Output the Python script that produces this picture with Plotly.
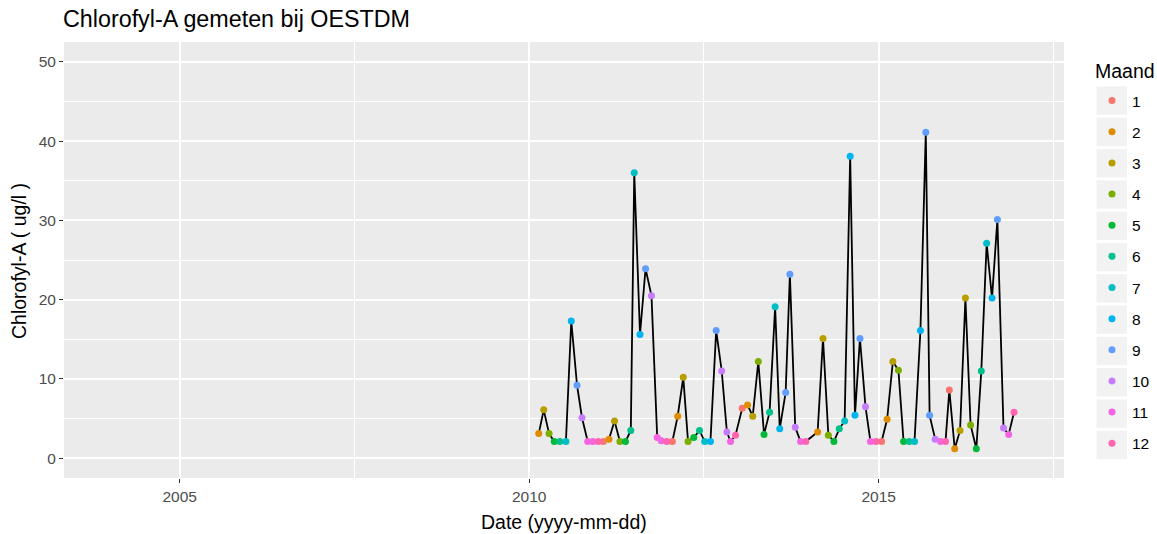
import plotly.graph_objects as go

# ---- data ----
dates = [
    "2010-02-20", "2010-03-18", "2010-04-15", "2010-05-12", "2010-06-10", "2010-07-12",
    "2010-08-09", "2010-09-08", "2010-10-04", "2010-11-03", "2010-11-29", "2010-12-27",
    "2011-01-24", "2011-02-22", "2011-03-23", "2011-04-20", "2011-05-19", "2011-06-16",
    "2011-07-04", "2011-08-03", "2011-09-01", "2011-10-02", "2011-11-01", "2011-11-22",
    "2011-12-21", "2012-01-19", "2012-02-16", "2012-03-16", "2012-04-10", "2012-05-10",
    "2012-06-09", "2012-07-06", "2012-08-05", "2012-09-04", "2012-10-03", "2012-10-30",
    "2012-11-18", "2012-12-14", "2013-01-18", "2013-02-15", "2013-03-14", "2013-04-12",
    "2013-05-12", "2013-06-10", "2013-07-09", "2013-08-02", "2013-09-02", "2013-09-24",
    "2013-10-22", "2013-11-19", "2013-12-16", "2014-02-16", "2014-03-16", "2014-04-13",
    "2014-05-12", "2014-06-09", "2014-07-07", "2014-08-05", "2014-08-30", "2014-09-25",
    "2014-10-24", "2014-11-19", "2014-12-18", "2015-01-16", "2015-02-14", "2015-03-16",
    "2015-04-14", "2015-05-11", "2015-06-09", "2015-07-07", "2015-08-07", "2015-09-04",
    "2015-09-24", "2015-10-23", "2015-11-20", "2015-12-16", "2016-01-05", "2016-02-02",
    "2016-03-01", "2016-03-29", "2016-04-25", "2016-05-25", "2016-06-20", "2016-07-18",
    "2016-08-15", "2016-09-12", "2016-10-14", "2016-11-10", "2016-12-08",
]
chlorofyl = [
    3.1, 6.1, 3.1, 2.1, 2.1, 2.1,
    17.3, 9.2, 5.1, 2.1, 2.1, 2.1,
    2.1, 2.4, 4.7, 2.1, 2.1, 3.5,
    36.0, 15.6, 23.9, 20.5, 2.6, 2.2,
    2.1, 2.1, 5.3, 10.2, 2.1, 2.6,
    3.5, 2.1, 2.1, 16.1, 11.0, 3.3,
    2.1, 2.9, 6.3, 6.7, 5.3, 12.2,
    3.0, 5.8, 19.1, 3.7, 8.3, 23.2,
    3.9, 2.1, 2.1, 3.3, 15.1, 2.9,
    2.1, 3.7, 4.7, 38.1, 5.4, 15.1,
    6.5, 2.1, 2.1, 2.1, 4.9, 12.2,
    11.1, 2.1, 2.1, 2.1, 16.1, 41.1,
    5.4, 2.4, 2.1, 2.1, 8.6, 1.2,
    3.5, 20.2, 4.2, 1.2, 11.0, 27.1,
    20.2, 30.1, 3.8, 3.0, 5.8,
]
maand = [int(d[5:7]) for d in dates]
month_labels = [str(m) for m in range(1, 13)]
month_colors = ["#F8766D", "#DE8C00", "#B79F00", "#7CAE00", "#00BA38", "#00C08B",
                "#00BFC4", "#00B4F0", "#619CFF", "#C77CFF", "#F564E3", "#FF64B0"]
x_tick_vals = ["2005-01-01", "2010-01-01", "2015-01-01"]
x_tick_text = ["2005", "2010", "2015"]
y_tick_vals = [0, 10, 20, 30, 40, 50]

FONT = "Liberation Sans, Arial, sans-serif"
W, H = 1157, 534
L, R, T, B = 64, 93, 42, 56
PH = H - T - B
PW = W - L - R


def px_x(p):
    return (p - L) / PW


def px_y(p):
    return (H - B - p) / PH


fig = go.Figure()
fig.add_trace(go.Scatter(x=dates, y=chlorofyl, mode="lines",
                         line=dict(color="black", width=1.8),
                         showlegend=False, hoverinfo="skip"))
for i, lab in enumerate(month_labels):
    m = i + 1
    xs = [d for d, mm in zip(dates, maand) if mm == m]
    ys = [v for v, mm in zip(chlorofyl, maand) if mm == m]
    fig.add_trace(go.Scatter(x=xs, y=ys, mode="markers", name=lab, legendgroup=lab,
                             marker=dict(color=month_colors[i], size=7)))

# legend key backgrounds (ggplot style grey boxes)
shapes = []
for i in range(12):
    cy = 100.6 + 31.3 * i
    shapes.append(dict(type="rect", xref="paper", yref="paper",
                       x0=px_x(1096.5), x1=px_x(1127),
                       y0=px_y(cy + 14.2), y1=px_y(cy - 14.2),
                       fillcolor="#F2F2F2", line=dict(width=0), layer="below"))

annotations = [
    dict(text="Maand", xref="paper", yref="paper", x=px_x(1093), y=px_y(71),
         xanchor="left", yanchor="middle", showarrow=False,
         font=dict(size=19.5, color="black", family=FONT)),
    dict(text="Date (yyyy-mm-dd)", xref="paper", yref="paper", x=px_x(564), y=px_y(521.5),
         xanchor="center", yanchor="middle", showarrow=False,
         font=dict(size=19.5, color="black", family=FONT)),
    dict(text="Chlorofyl-A ( ug/l )", xref="paper", yref="paper", x=px_x(19), y=px_y(261),
         xanchor="center", yanchor="middle", showarrow=False, textangle=-90,
         font=dict(size=19.5, color="black", family=FONT)),
]

fig.update_layout(
    width=W, height=H,
    margin=dict(l=L, r=R, t=T, b=B, pad=0, autoexpand=False),
    paper_bgcolor="white", plot_bgcolor="#EBEBEB",
    font=dict(family=FONT, color="black"),
    title=dict(text="Chlorofyl-A gemeten bij OESTDM", x=(L - 1) / W, xanchor="left",
               y=1 - 19 / H, yanchor="middle", font=dict(size=23.3, color="black")),
    showlegend=True,
    legend=dict(font=dict(size=15.5, color="black"),
                xref="container", yref="container",
                x=1092 / W, xanchor="left", y=1 - 84 / H, yanchor="top",
                maxheight=1, tracegroupgap=8, bgcolor="rgba(0,0,0,0)",
                itemsizing="trace"),
    shapes=shapes,
    annotations=annotations,
    xaxis=dict(type="date", range=["2003-05-08", "2017-08-26"],
               tickvals=x_tick_vals, ticktext=x_tick_text,
               showgrid=True, gridcolor="white", gridwidth=2,
               minor=dict(tickvals=["2007-07-02", "2012-07-02", "2017-07-02"],
                          showgrid=True, gridcolor="white", gridwidth=1, ticks=""),
               ticks="outside", ticklen=4, tickcolor="#333333", tickwidth=1,
               tickfont=dict(size=15.5, color="#4D4D4D"),
               zeroline=False, showline=False, automargin=False),
    yaxis=dict(range=[-2.5, 52.5], tickvals=y_tick_vals,
               showgrid=True, gridcolor="white", gridwidth=2,
               minor=dict(tickvals=[5, 15, 25, 35, 45], showgrid=True,
                          gridcolor="white", gridwidth=1, ticks=""),
               ticks="outside", ticklen=4, tickcolor="#333333", tickwidth=1,
               tickfont=dict(size=15.5, color="#4D4D4D"),
               zeroline=False, showline=False, automargin=False),
)

fig.write_html("out.html")
